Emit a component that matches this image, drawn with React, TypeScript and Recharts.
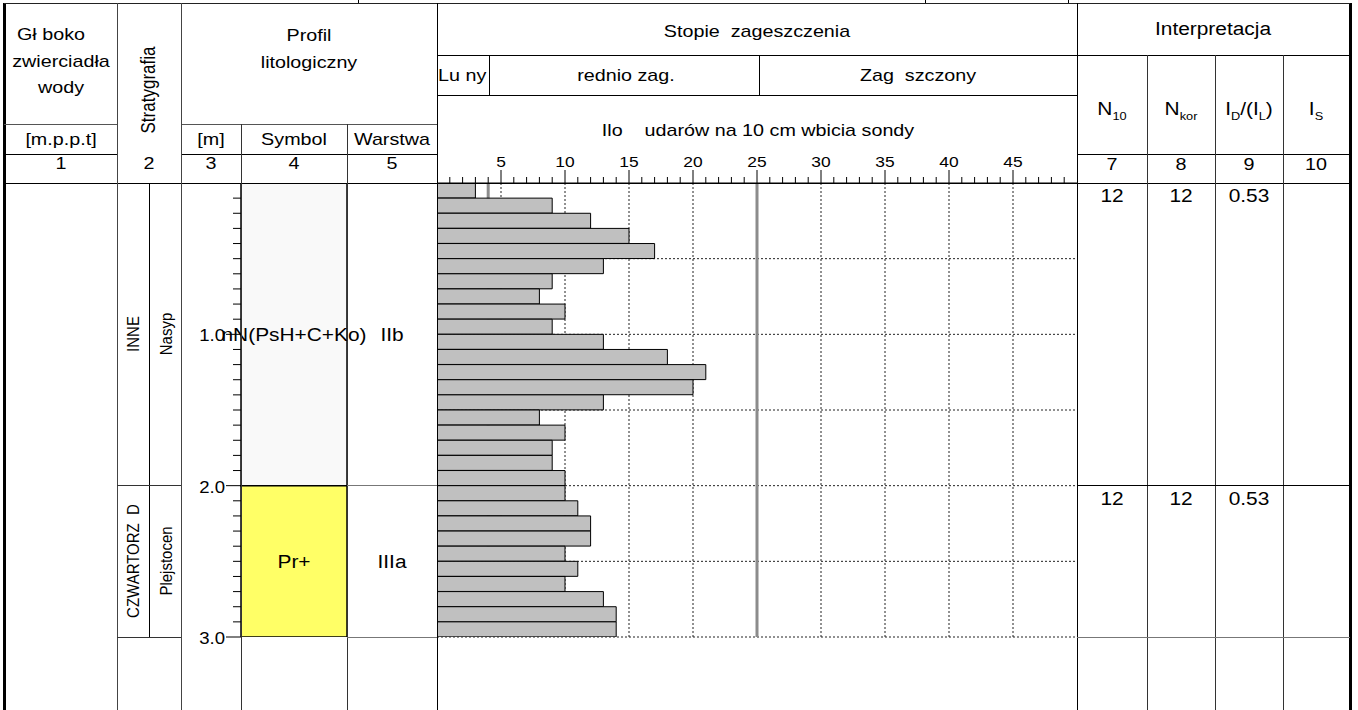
import React from 'react';
import {
  ComposedChart,
  Bar,
  XAxis,
  YAxis,
  CartesianGrid,
  ReferenceLine,
} from 'recharts';

// top of each 10 cm probing interval [m]
const DEPTH_FROM = [0.0, 0.1, 0.2, 0.3, 0.4, 0.5, 0.6, 0.7, 0.8, 0.9, 1.0, 1.1, 1.2, 1.3, 1.4, 1.5, 1.6, 1.7, 1.8, 1.9, 2.0, 2.1, 2.2, 2.3, 2.4, 2.5, 2.6, 2.7, 2.8, 2.9];
// blows per 10 cm
const BLOWS = [3, 9, 12, 15, 17, 13, 9, 8, 10, 9, 13, 18, 21, 20, 13, 8, 10, 9, 9, 10, 10, 11, 12, 12, 10, 11, 10, 13, 14, 14];

const SCALE_TICKS = [0, 1, 2, 3, 4, 5, 6, 7, 8, 9, 10, 11, 12, 13, 14, 15, 16, 17, 18, 19, 20, 21, 22, 23, 24, 25, 26, 27, 28, 29, 30, 31, 32, 33, 34, 35, 36, 37, 38, 39, 40, 41, 42, 43, 44, 45, 46, 47, 48, 49, 50];
const SCALE_LABELS = [5, 10, 15, 20, 25, 30, 35, 40, 45];
const GRID_BLOWS = [5, 10, 15, 20, 25, 30, 35, 40, 45];
const GRID_DEPTH = [0.5, 1.0, 1.5, 2.0, 2.5, 3.0];
const DENSITY_LIMITS = [4, 25];
const DEPTH_TICKS = [0.1, 0.2, 0.3, 0.4, 0.5, 0.6, 0.7, 0.8, 0.9, 1.0, 1.1, 1.2, 1.3, 1.4, 1.5, 1.6, 1.7, 1.8, 1.9, 2.0, 2.1, 2.2, 2.3, 2.4, 2.5, 2.6, 2.7, 2.8, 2.9, 3.0];

const LAYER_FROM = [0.0, 2.0];
const LAYER_TO = [2.0, 3.0];
const LAYER_SYMBOL = ['nN(PsH+C+Ko)', 'Pr+'];
const LAYER_CODE = ['IIb', 'IIIa'];
const STRAT_AGE = ['INNE', 'CZWARTORZ  D'];
const STRAT_UNIT = ['Nasyp', 'Plejstocen'];
const N10 = ['12', '12'];
const NKOR = ['12', '12'];
const ID_IL = ['0.53', '0.53'];

const LAYER_FILL = ['#f9f9f9', '#ffff66'];
const FONT = '"Liberation Sans", Arial, Helvetica, sans-serif';
const SX = 1.16;
const TOP = 183;
const BOTTOM = 637;
const MAX_DEPTH = 3;
const depthY = (d: number) => TOP + (d / MAX_DEPTH) * (BOTTOM - TOP);

const rows = DEPTH_FROM.map((d, i) => ({ mid: d + 0.05, blows: BLOWS[i] }));
// one stacked column: thickness of every layer
const profileRow: Record<string, any> = { col: 'profil' };
LAYER_FROM.forEach((d, i) => {
  profileRow[`l${i}`] = LAYER_TO[i] - d;
});

const Txt = ({ x, y, size = 17, rot = false, start = false, children }: any) => (
  <div
    style={{
      position: 'absolute',
      left: x,
      top: y,
      fontSize: size,
      lineHeight: 1,
      whiteSpace: 'pre',
      fontFamily: FONT,
      color: '#000',
      transformOrigin: start ? 'left center' : 'center',
      transform: `translate(${start ? '0' : '-50%'}, -50%) scaleX(${SX})${rot ? ' rotate(-90deg)' : ''}`,
    }}
  >
    {children}
  </div>
);

const H = ({ y, x1, x2, c = '#000', w = 1 }: any) => (
  <div style={{ position: 'absolute', left: x1, top: Math.round(y - w / 2), width: x2 - x1, height: w, background: c }} />
);
const V = ({ x, y1, y2, c = '#000', w = 1 }: any) => (
  <div style={{ position: 'absolute', left: Math.round(x - w / 2), top: y1, width: w, height: y2 - y1, background: c }} />
);

const ScaleTick = ({ x, y, payload }: any) => {
  const v = payload.value;
  const major = v % 5 === 0;
  return (
    <g>
      {v > 0 && v < 50 && <line x1={x} x2={x} y1={y} y2={y - (major ? 13 : 6)} stroke="#000" />}
      {SCALE_LABELS.includes(v) && (
        <text
          transform={`translate(${x},${y - 16}) scale(${SX},1)`}
          textAnchor="middle"
          fontSize={15}
          fontFamily={FONT}
          fill="#000"
        >
          {v}
        </text>
      )}
    </g>
  );
};

const DepthTick = ({ x, y, payload }: any) => {
  const v = payload.value;
  const major = Math.abs(v - Math.round(v)) < 1e-6;
  return (
    <g>
      <line x1={x} x2={x - (major ? 15 : 8)} y1={y} y2={y} stroke="#000" />
      {major && (
        <text
          transform={`translate(${x - 16},${y + 7}) scale(${SX},1)`}
          textAnchor="end"
          fontSize={16}
          fontFamily={FONT}
          fill="#000"
        >
          {v.toFixed(1)}
        </text>
      )}
    </g>
  );
};

const layerLabel = (i: number) => (p: any) => {
  const vb = p.viewBox && p.viewBox.width != null ? p.viewBox : p;
  const x = Number(vb.x);
  const w = Number(vb.width);
  const cy = Number(vb.y) + Number(vb.height) / 2;
  return (
    <g>
      <text
        transform={`translate(${x + w / 2},${cy + 6.5}) scale(${SX},1)`}
        textAnchor="middle"
        fontSize={18}
        fontFamily={FONT}
        fill="#000"
      >
        {LAYER_SYMBOL[i]}
      </text>
      <text
        transform={`translate(${x + w + 45},${cy + 6.5}) scale(${SX},1)`}
        textAnchor="middle"
        fontSize={18}
        fontFamily={FONT}
        fill="#000"
      >
        {LAYER_CODE[i]}
      </text>
    </g>
  );
};

const vGen = ({ xAxis, offset }: any) =>
  GRID_BLOWS.map((v) =>
    xAxis && typeof xAxis.scale === 'function' ? xAxis.scale(v) : offset.left + (v / 50) * offset.width,
  );
const hGen = ({ yAxis, offset }: any) =>
  GRID_DEPTH.map((d) =>
    yAxis && typeof yAxis.scale === 'function' ? yAxis.scale(d) : offset.top + (d / MAX_DEPTH) * offset.height,
  );

const App = () => {
  const cols = [1112, 1181, 1249];
  return (
    <div style={{ position: 'absolute', left: 0, top: 0, width: 1358, height: 710, background: '#fff', overflow: 'hidden', fontFamily: FONT }}>
      {/* probing chart */}
      <div style={{ position: 'absolute', left: 437, top: 140 }}>
        <ComposedChart
          width={640}
          height={507}
          layout="vertical"
          data={rows}
          margin={{ top: 0, right: 0, bottom: 10, left: 0 }}
          barCategoryGap={0}
          barGap={0}
        >
          <CartesianGrid
            stroke="#222"
            strokeDasharray="2 2"
            verticalCoordinatesGenerator={vGen}
            horizontalCoordinatesGenerator={hGen}
          />
          <XAxis
            type="number"
            orientation="top"
            domain={[0, 50]}
            ticks={SCALE_TICKS}
            interval={0}
            height={43}
            tickLine={false}
            tickSize={0}
            tickMargin={0}
            tick={(p: any) => <ScaleTick {...p} />}
            axisLine={{ stroke: '#000' }}
            allowDataOverflow
          />
          <YAxis type="number" dataKey="mid" domain={[0, MAX_DEPTH]} hide allowDataOverflow />
          {DENSITY_LIMITS.map((v) => (
            <ReferenceLine key={v} x={v} stroke="#8c8c8c" strokeWidth={3} {...({ zIndex: -50 } as any)} />
          ))}
          <Bar dataKey="blows" fill="#c0c0c0" stroke="#000" strokeWidth={1} isAnimationActive={false} />
        </ComposedChart>
      </div>

      {/* depth axis and lithology column */}
      <div style={{ position: 'absolute', left: 181, top: TOP - 10 }}>
        <ComposedChart
          width={256}
          height={BOTTOM - TOP + 20}
          data={[profileRow]}
          margin={{ top: 10, right: 90, bottom: 10, left: 0 }}
          barCategoryGap={0}
          barGap={0}
        >
          <XAxis type="category" dataKey="col" hide />
          <YAxis
            type="number"
            domain={[0, MAX_DEPTH]}
            reversed
            ticks={DEPTH_TICKS}
            interval={0}
            width={60}
            tickLine={false}
            tickSize={0}
            tickMargin={0}
            axisLine={false}
            tick={(p: any) => <DepthTick {...p} />}
            allowDataOverflow
          />
          {LAYER_FROM.map((d, i) => (
            <Bar
              key={i}
              dataKey={`l${i}`}
              stackId="profile"
              fill={LAYER_FILL[i]}
              stroke="#000"
              strokeWidth={1.5}
              isAnimationActive={false}
              label={layerLabel(i)}
            />
          ))}
        </ComposedChart>
      </div>

      {/* frame */}
      <V x={4} y1={3} y2={710} w={3} />
      <V x={1350} y1={3} y2={710} w={3} />
      <H y={3} x1={4} x2={1350} c="#222" />
      <V x={358} y1={0} y2={3} />
      <V x={925} y1={0} y2={3} />
      <V x={1068} y1={0} y2={3} />

      {/* header grid */}
      <H y={55} x1={437} x2={1350} />
      <H y={95} x1={437} x2={1077} />
      <H y={124} x1={4} x2={117} c="#555" />
      <H y={124} x1={181} x2={437} c="#555" />
      <H y={154} x1={4} x2={117} />
      <H y={154} x1={181} x2={437} />
      <H y={154} x1={1077} x2={1350} />
      <H y={183} x1={4} x2={1350} />
      <V x={117} y1={3} y2={710} c="#444" />
      <V x={181} y1={3} y2={710} c="#444" />
      <V x={241} y1={124} y2={710} c="#333" />
      <V x={347} y1={124} y2={710} c="#333" />
      <V x={437} y1={3} y2={710} />
      <V x={489} y1={55} y2={95} />
      <V x={759} y1={55} y2={95} />
      <V x={1077} y1={3} y2={710} />
      <V x={1147} y1={55} y2={710} c="#333" />
      <V x={1215} y1={55} y2={710} c="#333" />
      <V x={1283} y1={55} y2={710} c="#333" />
      <V x={149} y1={TOP} y2={depthY(LAYER_TO[LAYER_TO.length - 1])} />

      {/* body layer boundaries */}
      {LAYER_TO.map((d, i) => (
        <React.Fragment key={i}>
          <H y={depthY(d)} x1={117} x2={181} c="#333" />
          <H y={depthY(d)} x1={347} x2={437} c="#777" />
          <H y={depthY(d)} x1={1077} x2={1350} c={i === 0 ? '#000' : '#777'} />
        </React.Fragment>
      ))}

      {/* header text */}
      <Txt x={51} y={34}>Gł boko</Txt>
      <Txt x={61} y={61}>zwierciadła</Txt>
      <Txt x={61} y={87}>wody</Txt>
      <Txt x={61} y={139}>[m.p.p.t]</Txt>
      <Txt x={149} y={90} rot>Stratygrafia</Txt>
      <Txt x={309} y={35}>Profil</Txt>
      <Txt x={309} y={62}>litologiczny</Txt>
      <Txt x={211} y={139}>[m]</Txt>
      <Txt x={294} y={139}>Symbol</Txt>
      <Txt x={392} y={139}>Warstwa</Txt>
      <Txt x={61} y={163}>1</Txt>
      <Txt x={149} y={163}>2</Txt>
      <Txt x={211} y={163}>3</Txt>
      <Txt x={294} y={163}>4</Txt>
      <Txt x={392} y={163}>5</Txt>

      <Txt x={757} y={31}>Stopie  zageszczenia</Txt>
      <Txt x={438} y={75} start>Lu ny</Txt>
      <Txt x={626} y={75}>rednio zag.</Txt>
      <Txt x={918} y={75}>Zag  szczony</Txt>
      <Txt x={758} y={130}>Ilo    udarów na 10 cm wbicia sondy</Txt>

      <Txt x={1213} y={29} size={18}>Interpretacja</Txt>
      <Txt x={1112} y={111} size={18}>N<sub style={{ fontSize: 11 }}>10</sub></Txt>
      <Txt x={1181} y={111} size={18}>N<sub style={{ fontSize: 11 }}>kor</sub></Txt>
      <Txt x={1249} y={111} size={18}>I<sub style={{ fontSize: 11 }}>D</sub>/(I<sub style={{ fontSize: 11 }}>L</sub>)</Txt>
      <Txt x={1316} y={111} size={18}>I<sub style={{ fontSize: 11 }}>S</sub></Txt>
      <Txt x={1112} y={164}>7</Txt>
      <Txt x={1181} y={164}>8</Txt>
      <Txt x={1249} y={164}>9</Txt>
      <Txt x={1316} y={164}>10</Txt>

      {/* stratigraphy and interpretation per layer */}
      {LAYER_FROM.map((d, i) => {
        const cy = (depthY(d) + depthY(LAYER_TO[i])) / 2;
        const ty = depthY(d) + 13;
        return (
          <React.Fragment key={i}>
            <Txt x={133} y={cy} size={15} rot>{STRAT_AGE[i]}</Txt>
            <Txt x={166} y={cy} size={15} rot>{STRAT_UNIT[i]}</Txt>
            <Txt x={cols[0]} y={ty} size={18}>{N10[i]}</Txt>
            <Txt x={cols[1]} y={ty} size={18}>{NKOR[i]}</Txt>
            <Txt x={cols[2]} y={ty} size={18}>{ID_IL[i]}</Txt>
          </React.Fragment>
        );
      })}
    </div>
  );
};

export default App;
